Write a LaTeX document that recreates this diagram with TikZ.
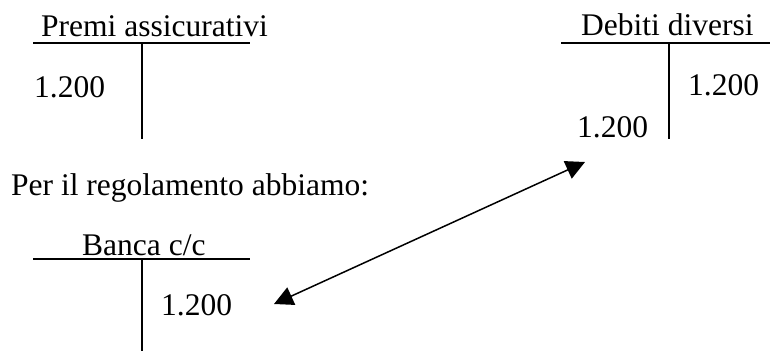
\documentclass[tikz,border=0pt]{standalone}
\usepackage{fontspec}
\setmainfont{Liberation Serif}
\usetikzlibrary{arrows.meta}
\begin{document}
\begin{tikzpicture}[x=1pt,y=-1pt,
  lbl/.style={inner sep=0pt,anchor=base west,font=\fontsize{31.5}{36}\selectfont},
  tline/.style={line width=2pt},
  link/.style={line width=1.5pt,{Triangle[length=19pt,width=19pt]}-{Triangle[length=19pt,width=19pt]}}]
\useasboundingbox (0,0) rectangle (770,351);
% Premi assicurativi
\node[lbl] (pa) at (41,36) {Premi assicurativi};
\draw[tline] (33,43) -- (250,43);
\draw[tline] (142,43) -- (142,139);
\node[lbl] (pa1) at (34,97) {1.200};
% Debiti diversi
\node[lbl] (dd) at (581,35) {Debiti diversi};
\draw[tline] (561,43) -- (770,43);
\draw[tline] (669,43) -- (669,139);
\node[lbl] (dd1) at (688,95) {1.200};
\node[lbl] (dd2) at (577,137) {1.200};
% Text
\node[lbl] (txt) at (11,195) {Per il regolamento abbiamo:};
% Banca c/c
\node[lbl] (bc) at (82,255) {Banca c/c};
\draw[tline] (33,259) -- (250,259);
\draw[tline] (142,259) -- (142,351);
\node[lbl] (bc1) at (161,315) {1.200};
% arrow
\coordinate (a1) at (274,304);
\coordinate (a2) at (585,162);
\draw[link] (a1) -- (a2);
\end{tikzpicture}
\end{document}
